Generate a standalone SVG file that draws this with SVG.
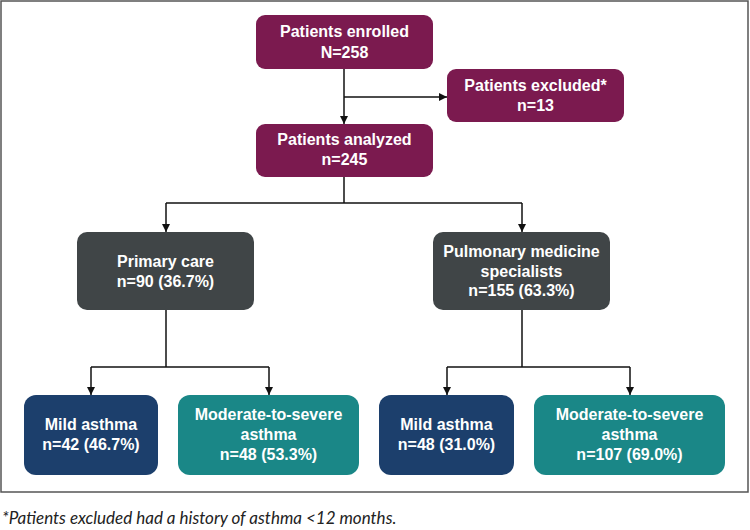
<svg xmlns="http://www.w3.org/2000/svg" width="750" height="530" viewBox="0 0 750 530">
  <defs>
    <marker id="arrow" viewBox="0 0 10 10" refX="10" refY="5" markerWidth="8" markerHeight="8" markerUnits="userSpaceOnUse" orient="auto">
      <path d="M0,0 L10,5 L0,10 Z" fill="#111"/>
    </marker>
    <style>
      .box { stroke: none; }
      .maroon { fill: #7b1a4f; }
      .gray { fill: #404547; }
      .navy { fill: #1c3f6c; }
      .teal { fill: #1a8787; }
      .label { font-family: "Liberation Sans", Arial, sans-serif; font-weight: bold; font-size: 16px; fill: #ffffff; text-anchor: middle; }
      .conn { stroke: #111; stroke-width: 1.5; fill: none; }
      .foot { font-family: Lato, "Liberation Sans", sans-serif; font-style: italic; font-size: 17px; fill: #222; }
    </style>
  </defs>
  <rect x="0" y="0" width="750" height="530" fill="#ffffff"/>
  <rect x="1" y="1" width="747" height="491" fill="none" stroke="#555" stroke-width="1.5"/>

  <g id="connectors">
    <line class="conn" x1="344" y1="69" x2="344" y2="124" marker-end="url(#arrow)"/>
    <line class="conn" x1="344" y1="97" x2="447" y2="97" marker-end="url(#arrow)"/>
    <line class="conn" x1="344" y1="177" x2="344" y2="203"/>
    <line class="conn" x1="166" y1="203" x2="522" y2="203"/>
    <line class="conn" x1="166" y1="203" x2="166" y2="232" marker-end="url(#arrow)"/>
    <line class="conn" x1="522" y1="203" x2="522" y2="232" marker-end="url(#arrow)"/>
    <line class="conn" x1="166" y1="310" x2="166" y2="367"/>
    <line class="conn" x1="91" y1="367" x2="269" y2="367"/>
    <line class="conn" x1="91" y1="367" x2="91" y2="395" marker-end="url(#arrow)"/>
    <line class="conn" x1="269" y1="367" x2="269" y2="395" marker-end="url(#arrow)"/>
    <line class="conn" x1="522" y1="310" x2="522" y2="367"/>
    <line class="conn" x1="447" y1="367" x2="630" y2="367"/>
    <line class="conn" x1="447" y1="367" x2="447" y2="395" marker-end="url(#arrow)"/>
    <line class="conn" x1="630" y1="367" x2="630" y2="395" marker-end="url(#arrow)"/>
  </g>

  <g id="enrolled">
    <rect class="box maroon" x="256" y="15" width="177" height="54" rx="9"/>
    <text class="label" x="344.5" y="37">Patients enrolled</text>
    <text class="label" x="344.5" y="58">N=258</text>
  </g>
  <g id="excluded">
    <rect class="box maroon" x="447" y="69" width="177" height="53" rx="9"/>
    <text class="label" x="535.5" y="90.5">Patients excluded*</text>
    <text class="label" x="535.5" y="110.5">n=13</text>
  </g>
  <g id="analyzed">
    <rect class="box maroon" x="256" y="124" width="177" height="53" rx="9"/>
    <text class="label" x="344.5" y="145">Patients analyzed</text>
    <text class="label" x="344.5" y="165">n=245</text>
  </g>
  <g id="primary">
    <rect class="box gray" x="77" y="232" width="177" height="78" rx="10"/>
    <text class="label" x="165.5" y="267">Primary care</text>
    <text class="label" x="165.5" y="287">n=90 (36.7%)</text>
  </g>
  <g id="pulmonary">
    <rect class="box gray" x="433" y="232" width="177" height="78" rx="10"/>
    <text class="label" x="521.5" y="257">Pulmonary medicine</text>
    <text class="label" x="521.5" y="276.5">specialists</text>
    <text class="label" x="521.5" y="296">n=155 (63.3%)</text>
  </g>
  <g id="mild1">
    <rect class="box navy" x="24" y="395" width="134" height="80" rx="12"/>
    <text class="label" x="91" y="430">Mild asthma</text>
    <text class="label" x="91" y="449.5">n=42 (46.7%)</text>
  </g>
  <g id="moderate1">
    <rect class="box teal" x="178" y="395" width="181" height="80" rx="12"/>
    <text class="label" x="268.5" y="419.5">Moderate-to-severe</text>
    <text class="label" x="268.5" y="439.5">asthma</text>
    <text class="label" x="268.5" y="460">n=48 (53.3%)</text>
  </g>
  <g id="mild2">
    <rect class="box navy" x="379" y="395" width="135" height="80" rx="12"/>
    <text class="label" x="446.5" y="430">Mild asthma</text>
    <text class="label" x="446.5" y="449.5">n=48 (31.0%)</text>
  </g>
  <g id="moderate2">
    <rect class="box teal" x="534" y="395" width="191" height="80" rx="12"/>
    <text class="label" x="629.5" y="419.5">Moderate-to-severe</text>
    <text class="label" x="629.5" y="439.5">asthma</text>
    <text class="label" x="629.5" y="460">n=107 (69.0%)</text>
  </g>

  <text class="foot" x="2" y="524">*Patients excluded had a history of asthma &lt;12 months.</text>
</svg>
